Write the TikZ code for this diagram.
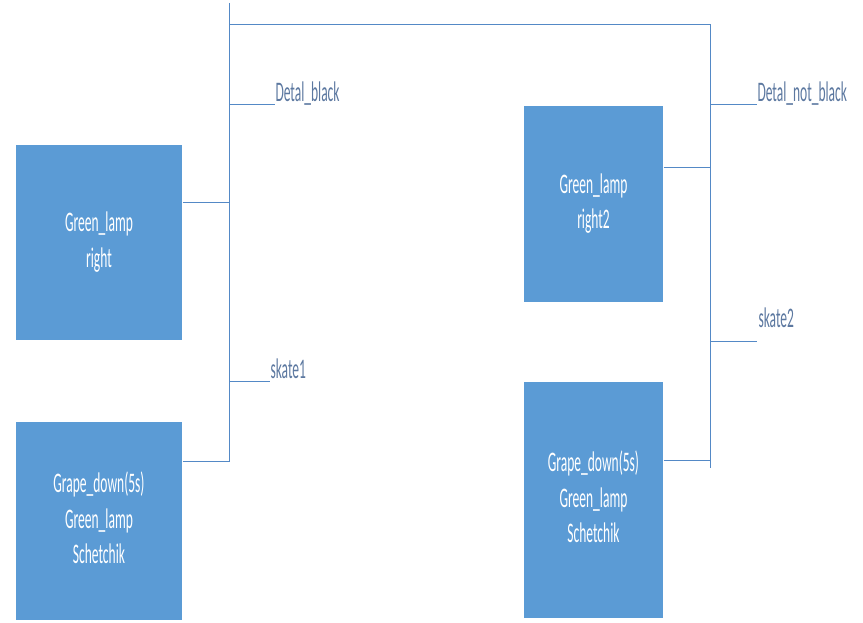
\documentclass[tikz,border=0pt]{standalone}
\usepackage{fontspec}
\setmainfont{Carlito}
\usepackage{graphicx}
\usetikzlibrary{positioning}
\definecolor{boxblue}{RGB}{91,155,213}
\definecolor{wireblue}{RGB}{84,137,198}
\definecolor{labelgray}{RGB}{92,120,160}

\newcommand{\tallt}[1]{\scalebox{1}[2.1]{\begin{tabular}{@{}c@{}}#1\end{tabular}}}

\begin{document}
\begin{tikzpicture}[x=1pt, y=1pt, line width=1pt,
  lampbox/.style={fill=boxblue, draw=none, text=white, inner sep=0pt,
    font=\fontsize{13.5}{17}\selectfont},
  wire/.style={draw=wireblue},
  sig/.style={text=labelgray, anchor=base west, inner sep=0pt,
    font=\fontsize{13.5}{16}\selectfont}]

\useasboundingbox (0,0) rectangle (863,622);

%% blocks -- left column
\node[lampbox, minimum width=166pt, minimum height=195pt] (lampA) at (99,379.5)
  {\tallt{Green\_lamp\\right}};
\node[lampbox, minimum width=166pt, minimum height=198pt] (grapeA) at (99,101)
  {\tallt{Grape\_down(5s)\\Green\_lamp\\Schetchik}};

%% blocks -- right column
\node[lampbox, minimum width=139pt, minimum height=196pt] (lampB) at (593.5,418)
  {\tallt{Green\_lamp\\right2}};
\node[lampbox, minimum width=139pt, minimum height=236pt] (grapeB) at (593.5,122)
  {\tallt{Grape\_down(5s)\\Green\_lamp\\Schetchik}};

%% bus points
\coordinate (busAtop) at (229,619);
\coordinate (busAbot) at (229,160);
\coordinate (busAcorner) at (229,597);
\coordinate (busBcorner) at (710,597);
\coordinate (busBbot) at (710,154);

%% signal ends
\coordinate (detA) at (275,517);
\coordinate (skA) at (270,240);
\coordinate (detB) at (757,517);
\coordinate (skB) at (757,280);

%% labels
\node[sig] (detAlbl) at ([yshift=3pt]detA) {\scalebox{1}[2.1]{Detal\_black}};
\node[sig] (skAlbl) at ([yshift=3pt]skA) {\scalebox{1}[2.1]{skate1}};
\node[sig] (detBlbl) at ([yshift=3pt]detB) {\scalebox{1}[2.1]{Detal\_not\_black}};
\node[sig] (skBlbl) at ([xshift=1pt,yshift=14pt]skB) {\scalebox{1}[2.1]{skate2}};

%% bus lines
\draw[wire] (busAtop) -- (busAbot);
\draw[wire] (busAcorner) -- (busBcorner) -- (busBbot);

%% stubs
\draw[wire] (busAcorner |- detA) -- (detA);
\draw[wire] (busAcorner |- skA) -- (skA);
\draw[wire] (busBcorner |- detB) -- (detB);
\draw[wire] (busBcorner |- skB) -- (skB);

%% block connections
\draw[wire] (lampA.east |- 0,419) -- (busAcorner |- 0,419);
\draw[wire] (grapeA.east |- busAbot) -- (busAbot);
\draw[wire] (lampB.east |- 0,454) -- (busBcorner |- 0,454);
\draw[wire] (grapeB.east |- 0,161) -- (busBcorner |- 0,161);

\end{tikzpicture}
\end{document}
